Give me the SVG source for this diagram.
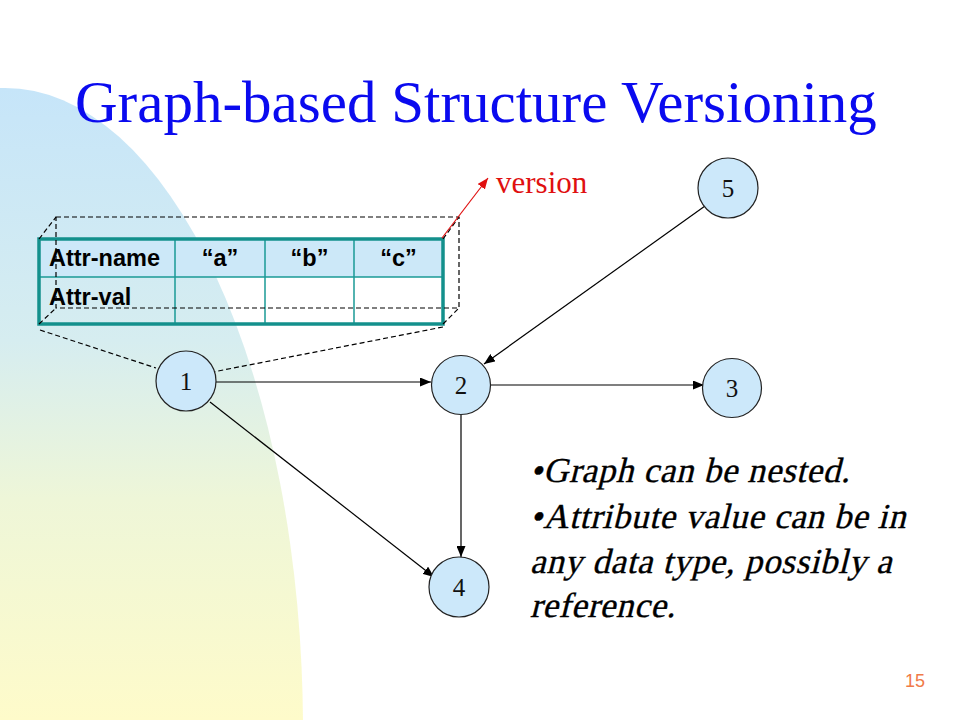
<svg xmlns="http://www.w3.org/2000/svg" width="960" height="720" viewBox="0 0 960 720">
  <defs>
    <linearGradient id="bg" gradientUnits="userSpaceOnUse" x1="0" y1="88" x2="0" y2="720">
      <stop offset="0" stop-color="#c6e5f9"/>
      <stop offset="0.4" stop-color="#d6edf0"/>
      <stop offset="0.65" stop-color="#eef6d8"/>
      <stop offset="1" stop-color="#fefbca"/>
    </linearGradient>
    <marker id="arr" markerUnits="userSpaceOnUse" markerWidth="11" markerHeight="9" refX="11" refY="4.5" orient="auto">
      <path d="M0,0 L11,4.5 L0,9 z" fill="#000"/>
    </marker>
    <marker id="arrRed" markerUnits="userSpaceOnUse" markerWidth="11" markerHeight="9" refX="11" refY="4.5" orient="auto">
      <path d="M0,0 L11,4.5 L0,9 z" fill="#e01010"/>
    </marker>
  </defs>
  <style>
    .node circle { fill: #cce8fa; stroke: #222; stroke-width: 1.2; }
    .node text { font-family: "Liberation Serif", "Times New Roman", serif; font-size: 25px; fill: #111; text-anchor: middle; }
    .edge { stroke: #000; stroke-width: 1.2; fill: none; marker-end: url(#arr); }
    .dash { stroke: #000; stroke-width: 1.2; fill: none; stroke-dasharray: 5 3; }
    .cellText { font-family: "Liberation Sans", Arial, sans-serif; font-weight: bold; font-size: 23.5px; fill: #000; }
    .bullet { font-family: "Liberation Serif", "Times New Roman", serif; font-size: 35px; fill: #000; stroke: #000; stroke-width: 0.35; letter-spacing: 0.7px; }
  </style>
  <rect width="960" height="720" fill="#fff"/>
  <ellipse cx="5" cy="730" rx="298" ry="642" fill="url(#bg)"/>

  <text x="75" y="122" font-family="Liberation Serif, 'Times New Roman', serif" font-size="59" fill="#0a0aef">Graph-based Structure Versioning</text>

  <g id="table">
    <rect x="39" y="239" width="404" height="38" fill="#cce8f8"/>
    <g stroke="#1a9a96" stroke-width="1.5">
      <line x1="39" y1="277" x2="443" y2="277"/>
      <line x1="175" y1="239" x2="175" y2="324"/>
      <line x1="265" y1="239" x2="265" y2="324"/>
      <line x1="354" y1="239" x2="354" y2="324"/>
    </g>
    <rect x="39" y="239" width="404" height="85" fill="none" stroke="#13908c" stroke-width="3.5"/>
    <text class="cellText" x="49" y="266">Attr-name</text>
    <text class="cellText" x="49" y="305">Attr-val</text>
    <text class="cellText" x="220" y="266" text-anchor="middle">“a”</text>
    <text class="cellText" x="309.5" y="266" text-anchor="middle">“b”</text>
    <text class="cellText" x="398.5" y="266" text-anchor="middle">“c”</text>
  </g>

  <g id="version-box">
    <polygon class="dash" points="56,217 459,217 459,308 56,308"/>
    <line class="dash" x1="39" y1="239" x2="56" y2="217"/>
    <line class="dash" x1="443" y1="239" x2="459" y2="217"/>
    <line class="dash" x1="39" y1="324" x2="56" y2="308"/>
    <line class="dash" x1="443" y1="324" x2="459" y2="308"/>
    <line class="dash" x1="40" y1="330" x2="156" y2="368"/>
    <line class="dash" x1="443" y1="327" x2="213" y2="372"/>
  </g>

  <g id="connectors">
    <line class="edge" x1="216" y1="382" x2="431" y2="382"/>
    <line class="edge" x1="491" y1="385" x2="704" y2="385"/>
    <line class="edge" x1="705" y1="206" x2="484" y2="364"/>
    <line class="edge" x1="461" y1="415" x2="461" y2="557"/>
    <line class="edge" x1="210" y1="402" x2="434" y2="577"/>
    <line x1="442" y1="238" x2="488" y2="178" stroke="#e01010" stroke-width="1.2" marker-end="url(#arrRed)"/>
  </g>

  <text id="version" x="496" y="193" font-family="Liberation Serif, 'Times New Roman', serif" font-size="31" fill="#e01010">version</text>

  <g id="node1" class="node"><circle cx="186" cy="381" r="30"/><text x="186" y="390">1</text></g>
  <g id="node2" class="node"><circle cx="461" cy="385" r="29.5"/><text x="461" y="394">2</text></g>
  <g id="node3" class="node"><circle cx="732" cy="388" r="29.5"/><text x="732" y="397">3</text></g>
  <g id="node4" class="node"><circle cx="459" cy="587" r="30"/><text x="459" y="596">4</text></g>
  <g id="node5" class="node"><circle cx="728" cy="188" r="30"/><text x="728" y="197">5</text></g>

  <g id="notes">
    <text class="bullet" transform="translate(530,482) skewX(-14)">•Graph can be nested.</text>
    <text class="bullet" transform="translate(530,527.5) skewX(-14)">•Attribute value can be in</text>
    <text class="bullet" transform="translate(530,573) skewX(-14)">any data type, possibly a</text>
    <text class="bullet" transform="translate(530,617) skewX(-14)">reference.</text>
  </g>

  <text x="925" y="687" text-anchor="end" font-family="Liberation Sans, Arial, sans-serif" font-size="18" fill="#f07a48">15</text>
</svg>
